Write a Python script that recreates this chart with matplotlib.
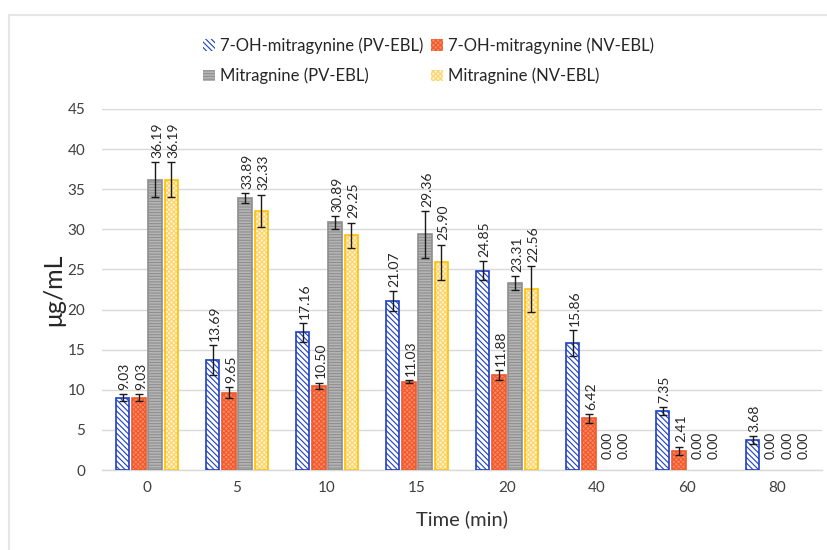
import matplotlib
matplotlib.use("Agg")
import matplotlib.pyplot as plt
import numpy as np
from matplotlib.lines import Line2D

plt.rcParams['font.family'] = ['Lato', 'DejaVu Sans']
plt.rcParams['hatch.linewidth'] = 0.8

categories = ["0", "5", "10", "15", "20", "40", "60", "80"]
series_names = ["7-OH-mitragynine (PV-EBL)", "7-OH-mitragynine (NV-EBL)",
                "Mitragnine (PV-EBL)", "Mitragnine (NV-EBL)"]
oh_pv = [9.03, 13.69, 17.16, 21.07, 24.85, 15.86, 7.35, 3.68]
oh_nv = [9.03, 9.65, 10.50, 11.03, 11.88, 6.42, 2.41, 0.00]
mit_pv = [36.19, 33.89, 30.89, 29.36, 23.31, 0.00, 0.00, 0.00]
mit_nv = [36.19, 32.33, 29.25, 25.90, 22.56, 0.00, 0.00, 0.00]
oh_pv_err = [0.4, 1.9, 1.2, 1.2, 1.2, 1.6, 0.5, 0.5]
oh_nv_err = [0.4, 0.7, 0.4, 0.2, 0.6, 0.5, 0.5, 0.0]
mit_pv_err = [2.2, 0.6, 0.8, 2.9, 0.9, 0.0, 0.0, 0.0]
mit_nv_err = [2.2, 2.0, 1.6, 2.2, 2.9, 0.0, 0.0, 0.0]

values = [oh_pv, oh_nv, mit_pv, mit_nv]
errors = [oh_pv_err, oh_nv_err, mit_pv_err, mit_nv_err]
styles = [
    dict(facecolor='white', edgecolor='#1c3fc4', hatch='\\\\\\\\\\\\'),
    dict(facecolor='#f98a66', edgecolor='#f2582a', hatch='xxxxxxx'),
    dict(facecolor='#b5b5b5', edgecolor='#8e8e8e', hatch='------'),
    dict(facecolor='#fff3d0', edgecolor='#ffc000', hatch='xxxxxxx'),
]
hatch_colors = ['#1c3fc4', '#f2582a', '#8e8e8e', '#fdd36a']

fig = plt.figure(figsize=(8.27, 5.5), dpi=100)
ax = fig.add_axes([102/827, 1-470/550, 720/827, (470-109)/550])

x = np.arange(len(categories))
pitch = 0.181
width = 0.15
handles = []
for i, (vals, errs, st, hc) in enumerate(zip(values, errors, styles, hatch_colors)):
    pos = x + (i - 1.5) * pitch
    bars = ax.bar(pos, vals, width, facecolor=st['facecolor'], edgecolor=hc,
                  hatch=st['hatch'], linewidth=0, zorder=2)
    lws = [1.2 if v > 0 else 0 for v in vals]
    ax.bar(pos, vals, width, facecolor='none', edgecolor=st['edgecolor'],
           linewidth=lws, zorder=3)
    handles.append(bars)
    vals_a = np.array(vals)
    errs_a = np.array(errs)
    m = errs_a > 0
    if m.any():
        ax.errorbar(pos[m], vals_a[m], yerr=errs_a[m], fmt='none', ecolor='#1a1a1a',
                    elinewidth=1.0, capsize=3, capthick=1.0, zorder=4)
    for p, v, e in zip(pos, vals, errs):
        off = 3 if e > 0 else 8
        ax.annotate(f"{v:.2f}", (p, v + e), xytext=(1.5, off), textcoords='offset points',
                    rotation=90, ha='center', va='bottom', fontsize=10, color='#262626',
                    zorder=5)

ax.set_xlim(-0.5, len(categories) - 0.5)
ax.set_ylim(0, 45)
ax.set_yticks(np.arange(0, 46, 5))
ax.set_xticks(x)
ax.set_xticklabels(categories)
ax.tick_params(axis='both', length=0, labelsize=11, colors='#404040', pad=8)
ax.tick_params(axis='y', pad=12)
ax.grid(axis='y', color='#d9d9d9', linewidth=1.0, zorder=0)
ax.set_axisbelow(True)
for s in ['top', 'right', 'left']:
    ax.spines[s].set_visible(False)
ax.spines['bottom'].set_color('#d9d9d9')
ax.spines['bottom'].set_linewidth(1.0)

ax.set_xlabel("Time (min)", fontsize=14.5, color='#333333', labelpad=11)
ax.set_ylabel("μg/mL", fontsize=18, color='#262626', labelpad=2)

order = [0, 2, 1, 3]
fig.legend(handles=[handles[k] for k in order], labels=[series_names[k] for k in order],
           ncol=2, loc='upper left',
           bbox_to_anchor=(188/827, 1-22/550), frameon=False, fontsize=12,
           handlelength=0.7, handleheight=0.7, handletextpad=0.3,
           columnspacing=0.5, labelspacing=0.85, labelcolor='#262626')

fig.add_artist(Line2D([9/827, 9/827], [0, 1-15/550], transform=fig.transFigure,
                      color='#e6e6e6', linewidth=1.5))
fig.add_artist(Line2D([9/827, 1], [1-15/550, 1-15/550], transform=fig.transFigure,
                      color='#e6e6e6', linewidth=1.5))

fig.savefig("out.png", dpi=100, facecolor='white')
